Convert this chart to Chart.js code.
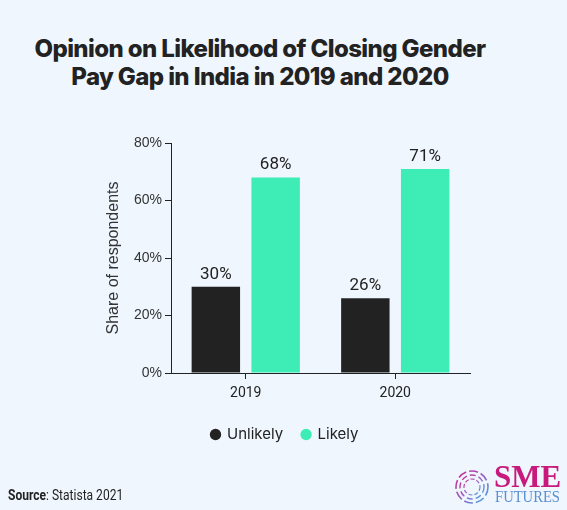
<!DOCTYPE html>
<html>
<head>
<meta charset="utf-8">
<script src="https://cdn.jsdelivr.net/npm/chart.js@4.4.0/dist/chart.umd.min.js"></script>
<style>
  html, body { margin: 0; padding: 0; }
  body { width: 567px; height: 510px; background: #eff6fe; position: relative; overflow: hidden; }
  #title {
    position: absolute; left: 0; top: 35px; width: 520px; text-align: center;
    font-family: Inter, sans-serif; font-weight: 800; font-size: 24px; line-height: 28px;
    color: #222; letter-spacing: -0.6px;
  }
  #chartBox { position: absolute; left: 0; top: 0; width: 567px; height: 510px; }
  #source {
    position: absolute; left: 8px; top: 487px; font-family: Roboto, sans-serif;
    font-size: 14px; color: #222; transform: scaleX(0.86); transform-origin: left center;
  }
  #logo { position: absolute; left: 452px; top: 462px; width: 115px; height: 46px; }
  #sme { position: absolute; left: 42px; top: 1px; font-family: "Liberation Serif", serif; font-weight: 700;
    font-size: 31px; line-height: 28px; color: #c8197c; }
  #fut { position: absolute; left: 43px; top: 27px; font-family: "Liberation Serif", serif;
    font-size: 17px; line-height: 16px; color: #5a8fd0; transform: scaleX(0.86); transform-origin: left center; }
</style>
</head>
<body>
<div id="title">Opinion on Likelihood of Closing Gender<br>Pay Gap in India in 2019 and 2020</div>
<div id="chartBox"><canvas id="chart" width="567" height="510"></canvas></div>
<div id="source"><b>Source</b>: Statista 2021</div>
<div id="logo">
  <svg width="42" height="46" viewBox="0 0 42 46">
    <defs>
      <linearGradient id="g" x1="0" y1="0" x2="1" y2="1">
        <stop offset="0" stop-color="#d0288a"/>
        <stop offset="0.5" stop-color="#9a5cc8"/>
        <stop offset="1" stop-color="#3fb0e8"/>
      </linearGradient>
    </defs>
    <circle cx="20" cy="25" r="16" fill="none" stroke="url(#g)" stroke-width="1.6" stroke-dasharray="9 3"/>
    <circle cx="20" cy="25" r="12" fill="none" stroke="url(#g)" stroke-width="1.4" stroke-dasharray="6 3"/>
    <circle cx="20" cy="25" r="8" fill="none" stroke="url(#g)" stroke-width="1.2" stroke-dasharray="4 2"/>
  </svg>
  <div id="sme">SME</div>
  <div id="fut">FUTURES</div>
</div>
<script>
const years = ["2019", "2020"];
const unlikely = [30, 26];
const likely = [68, 71];
const yTicks = [0, 20, 40, 60, 80];

const valueLabels = {
    id: "valueLabels",
    afterDatasetsDraw(chart) {
        const ctx = chart.ctx;
        ctx.save();
        ctx.font = "17px Roboto";
        ctx.fillStyle = "#222";
        ctx.textAlign = "center";
        ctx.textBaseline = "bottom";
        chart.data.datasets.forEach((ds, i) => {
            chart.getDatasetMeta(i).data.forEach((bar, j) => {
                ctx.fillText(ds.data[j] + "%", bar.x, bar.y - 4);
            });
        });
        ctx.restore();
    }
};

new Chart(document.getElementById("chart"), {
    type: "bar",
    data: {
        labels: years,
        datasets: [
            { label: "Unlikely", data: unlikely, backgroundColor: "#222222" },
            { label: "Likely", data: likely, backgroundColor: "#3eedb5" }
        ]
    },
    options: {
        responsive: false,
        animation: false,
        layout: { padding: { top: 143, left: 100, right: 97, bottom: 58 } },
        datasets: { bar: { categoryPercentage: 0.8, barPercentage: 0.81 } },
        scales: {
            x: {
                afterFit: s => { s.height = 35; },
                grid: { drawOnChartArea: false, offset: false, tickLength: 6, color: "#222" },
                border: { color: "#222" },
                ticks: { color: "#222", font: { family: "Roboto", size: 14 }, padding: 6 }
            },
            y: {
                min: 0, max: 80,
                afterFit: s => { s.width = 71; },
                afterBuildTicks: s => { s.ticks = yTicks.map(v => ({ value: v })); },
                grid: { drawOnChartArea: false, tickLength: 6, color: "#222" },
                border: { color: "#222" },
                ticks: { color: "#333", font: { family: "Liberation Sans", size: 14 }, padding: 3,
                    callback: v => v + "%" },
                title: { display: true, text: "Share of respondents", color: "#333",
                    font: { family: "Liberation Sans", size: 16 }, padding: { top: 4, bottom: 0 } }
            }
        },
        plugins: {
            legend: {
                position: "bottom",
                labels: { usePointStyle: true, pointStyle: "circle", boxWidth: 8, boxHeight: 8,
                    padding: 19, color: "#222", font: { family: "Inter", size: 15 } }
            },
            tooltip: { enabled: false }
        }
    },
    plugins: [valueLabels]
});
</script>
</body>
</html>
